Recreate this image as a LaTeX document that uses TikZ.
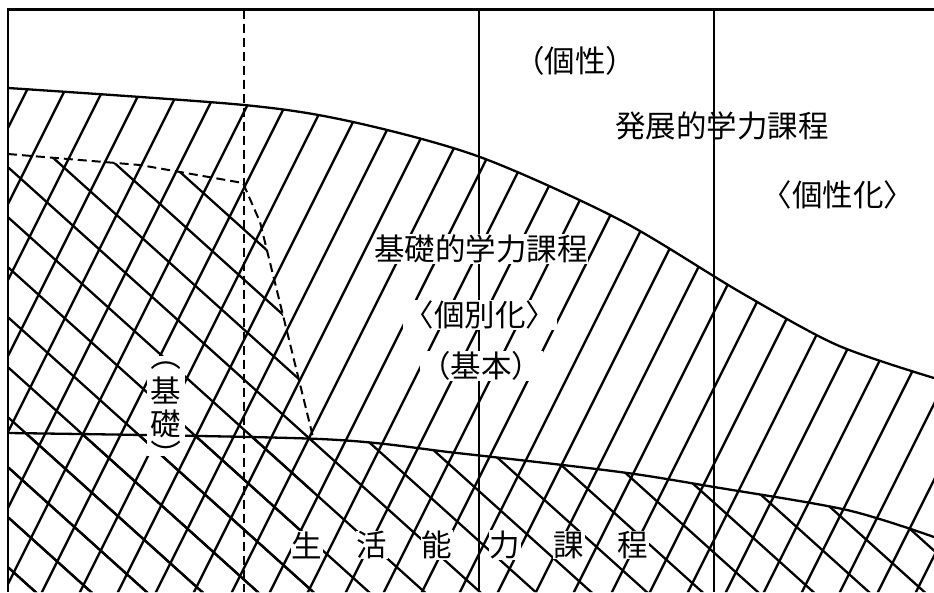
\documentclass[tikz,border=0pt]{standalone}
\usepackage{fontspec}
\newfontfamily\jp{Noto Sans CJK JP}
\begin{document}
\begin{tikzpicture}[x=1pt,y=-1pt,
  hatch/.style={line width=2.3pt},
  frameline/.style={line width=2.3pt},
  thinv/.style={line width=1.5pt},
  curveline/.style={line width=2.3pt},
  dashline/.style={line width=2pt, dash pattern=on 9pt off 5pt},
  lbl/.style={font=\jp\fontsize{30.5}{36}\selectfont, inner sep=0.5pt},
  lblw/.style={lbl, fill=white}]
\useasboundingbox (0,0) rectangle (934,592);

% "/" hatching below the upper curve
\begin{scope}
\clip plot[smooth] coordinates {(8,88) (244,105) (353,122) (480,157) (620,220) (740,292) (837,345) (934,378)} -- (934,592) -- (8,592) -- cycle;
\foreach \k in {72,110,...,1212} \draw[hatch] (\k,0) -- ({\k-300},600);
\end{scope}

% "\" hatching below the lower curve
\begin{scope}
\clip plot[smooth] coordinates {(8,433) (320,439) (457,453) (620,472) (714,487) (847,510) (934,537)} -- (934,592) -- (8,592) -- cycle;
\foreach \m in {-340,-290,...,610} \draw[hatch] (0,\m) -- (950,{\m+0.9*950});
\end{scope}

% "\" hatching in the basic region (left of the dashed line)
\begin{scope}
\clip (8,154) -- (140,165) -- (243,183) -- (260,222) -- (313,437) -- (313,592) -- (8,592) -- cycle;
\foreach \m in {-340,-290,...,610} \draw[hatch] (0,\m) -- (950,{\m+0.9*950});
\end{scope}

% curves
\draw[curveline] plot[smooth] coordinates {(8,88) (244,105) (353,122) (480,157) (620,220) (740,292) (837,345) (934,378)};
\draw[curveline] plot[smooth] coordinates {(8,433) (320,439) (457,453) (620,472) (714,487) (847,510) (934,537)};
\draw[dashline] (8,154) -- (140,165) -- (243,183) -- (260,222) -- (313,437);

% vertical lines
\draw[dashline] (244,9.5) -- (244,592);
\draw[thinv] (479,9.5) -- (479,592);
\draw[thinv] (714,9.5) -- (714,592);

% frame
\draw[frameline] (934,9.5) -- (8,9.5) -- (8,592);

% labels
\node[lbl] (kosei) at (575,61) {（個性）};
\node[lbl] (hatten) at (722,126) {発展的学力課程};
\node[lbl] (koseika) at (838,195) {〈個性化〉};
\node[lblw] (kiso) at (481,249) {基礎的学力課程};
\node[lblw] (kobetsu) at (480,315) {〈個別化〉};
\node[lblw] (kihon) at (481,366) {（基本）};
\foreach \c/\x [count=\i] in {生/307,活/372,能/437,力/505,課/569,程/633}
  \node[lblw] (s\i) at (\x,545) {\c};
\node[fill=white, minimum width=38pt, minimum height=100pt, inner sep=0pt] (kisobg) at (166,406) {};
\node[lbl, rotate=-90] (po) at (166,356) {（};
\node[lbl] (ki) at (166,390) {基};
\node[lbl] (so) at (166,424) {礎};
\node[lbl, rotate=-90] (pc) at (166,455) {）};
\end{tikzpicture}
\end{document}
